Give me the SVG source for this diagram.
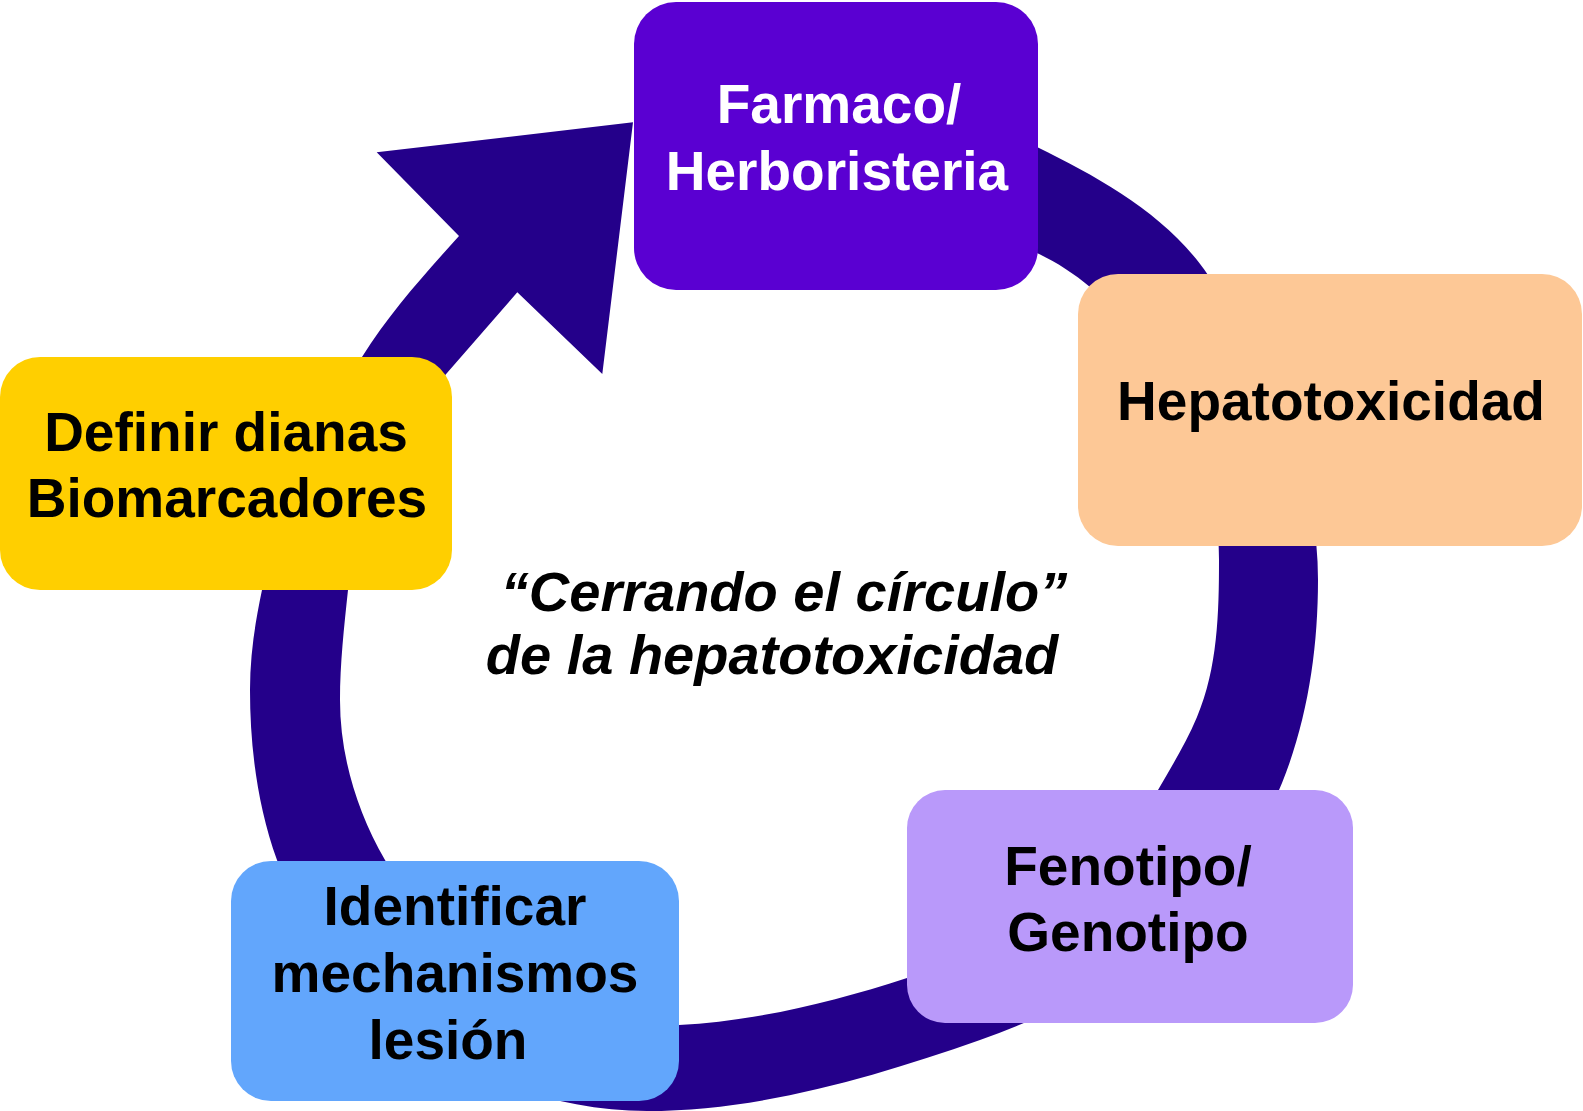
<svg xmlns="http://www.w3.org/2000/svg" width="1583" height="1111" viewBox="0 0 1583 1111">
<style>
.box{stroke:none}
.t{font-family:"Liberation Sans",Arial,Helvetica,sans-serif;font-weight:bold;font-size:55px;text-anchor:middle;fill:#000}
.w{fill:#fff}
.i{font-style:italic;font-size:56px}
</style>
<rect width="1583" height="1111" fill="#fff"/>
<g id="connectors">
<path id="cycle-arrow" fill="#24008a" d="M960,112 C985,123 1011.8,134.7 1037,147 C1100.8,178.1 1168.3,216.1 1208,275 C1269.5,366.2 1318,470 1318,580 C1318,649 1307.8,719 1282,783 C1229.6,912.8 1112.1,993.7 980,1040 C873.3,1077.3 760,1111 647,1111 C488,1111 331.4,1009.4 277,860 C257.5,806.4 250,747 250,690 C250,656 254.9,623.3 262,590 C279.7,506.9 317,429.1 362,357 C389.6,312.9 424.2,274.6 459,236 L376.7,152.3 L633,122.3 L602.3,374 L517.3,292.3 L447,373 C394.7,433.6 356.4,510.4 348,590 C344.1,626.8 340,663 340,700 C340,756 357,811.5 385,860 C445,963.9 559.2,1031.3 679,1025 C756.9,1020.9 832.8,1002.1 907,978 C1007.8,945.2 1105,881.8 1158,790 C1172,765.8 1186.1,742.8 1197,717 C1217.7,668.2 1219,613 1219,560 C1219,458 1168.1,352.6 1090,287 C1073.9,273.5 1056,261.9 1037,253 C1011.6,241.2 985.4,229.8 960,218 Z"/>
</g>
<g id="farmaco">
<rect class="box" x="634" y="2" width="404" height="288" rx="42" fill="#5a00d2"/>
<text class="t w" x="839" y="123">Farmaco/</text>
<text class="t w" x="837" y="190">Herboristeria</text>
</g>
<g id="hepatotoxicidad">
<rect class="box" x="1078" y="274" width="504" height="272" rx="40" fill="#fdc896"/>
<text class="t" x="1331" y="420">Hepatotoxicidad</text>
</g>
<g id="fenotipo">
<rect class="box" x="907" y="790" width="446" height="233" rx="38" fill="#b999fa"/>
<text class="t" x="1128" y="885">Fenotipo/</text>
<text class="t" x="1128" y="951">Genotipo</text>
</g>
<g id="identificar">
<rect class="box" x="231" y="861" width="448" height="240" rx="40" fill="#62a6fc"/>
<text class="t" x="455" y="925">Identificar</text>
<text class="t" x="455" y="992">mechanismos</text>
<text class="t" x="448" y="1059">lesión</text>
</g>
<g id="definir">
<rect class="box" x="0" y="357" width="452" height="233" rx="40" fill="#ffcf00"/>
<text class="t" x="226" y="451">Definir dianas</text>
<text class="t" x="227" y="517">Biomarcadores</text>
</g>
<g id="titulo">
<text class="t i" x="784" y="611">“Cerrando el círculo”</text>
<text class="t i" x="772" y="674">de la hepatotoxicidad</text>
</g>
</svg>
